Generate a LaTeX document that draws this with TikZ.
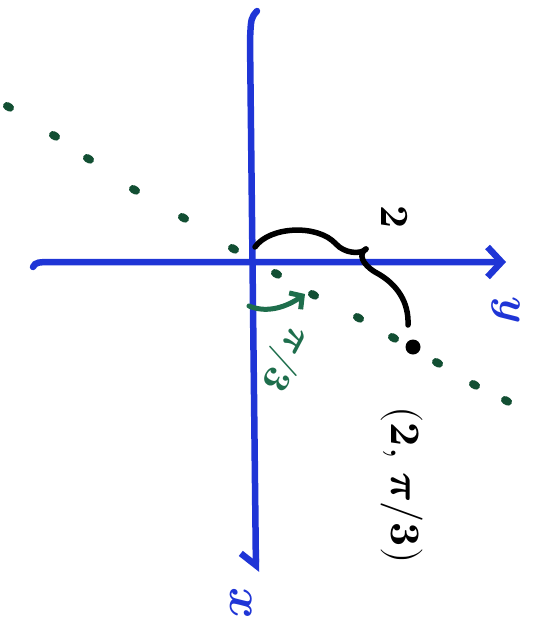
\documentclass[tikz,border=0pt]{standalone}
\usepackage{unicode-math}
\setmathfont{Latin Modern Math}
\usetikzlibrary{arrows.meta}
\definecolor{axisblue}{HTML}{1F35D6}
\definecolor{anglegreen}{HTML}{1E6E4C}
\definecolor{raygreen}{HTML}{124F33}
\newcommand{\hand}[1]{\fontsize{#1}{#1}\selectfont}
\begin{document}
\begin{tikzpicture}[x=1pt,y=-1pt,line cap=round,
  axisline/.style={draw=axisblue,line width=6.5pt},
  curveline/.style={draw=black,line width=5.5pt},
  arcline/.style={draw=anglegreen,line width=5pt}]
\useasboundingbox (0,0) rectangle (539,635);
\coordinate (xtop) at (257,11);
\coordinate (xend) at (256,572);
\coordinate (yleft) at (33,267);
\coordinate (yend) at (506,262);
\draw[axisline,-{Straight Barb[right,length=12pt,width=30pt]}] (xtop) .. controls (251,18) .. (250,40) -- (xend);
\draw[axisline,-{Straight Barb[length=14pt,width=30pt]}] (yleft) .. controls (36,262) .. (60,262) -- (yend);
\foreach \p in {(7,106),(53,135),(87,158),(133,189),(182,217),(232,248),(275,273),(312,294),(357,317),(392,337),(436,362),(473,384),(505,400)}{
\draw[raygreen,line width=8pt] \p -- ++(3,1.7);}
\coordinate (arcstart) at (255,247);
\coordinate (bracetip) at (366,249);
\coordinate (arcend) at (408,325);
\draw[curveline] (arcstart) .. controls (270,226) and (318,224) .. (336,244) .. controls (344,253) and (360,255) .. (bracetip);
\draw[curveline] (bracetip) .. controls (358,254) and (362,264) .. (375,272) .. controls (398,284) and (409,303) .. (arcend);
\node[circle,fill=black,inner sep=0pt,minimum size=15pt] (pt) at (413,347) {};
\coordinate (astart) at (249,306);
\coordinate (aend) at (305,294);
\draw[arcline,-{Straight Barb[length=9pt,width=20pt]}] (astart) .. controls (268,314) and (288,306) .. (aend);
\node[axisblue,rotate=-90,font=\hand{48},inner sep=0pt] (xlabel) at (241,603) {$\symbfit{x}$};
\node[axisblue,rotate=-90,font=\hand{44},inner sep=0pt] (ylabel) at (506,310) {$\symbfit{y}$};
\node[rotate=-90,font=\hand{40},inner sep=0pt] (rlabel) at (395,217) {$\symbf{2}$};
\node[anglegreen,rotate=-118,font=\hand{38},inner sep=0pt] (thlabel) at (285,359) {$\symbfit{\pi}\symbf{/3}$};
\node[rotate=-90,font=\hand{42},inner sep=0pt] (plabel) at (402,485) {$\symbf{(2,}\,\symbfit{\pi}\symbf{/3)}$};
\end{tikzpicture}
\end{document}
